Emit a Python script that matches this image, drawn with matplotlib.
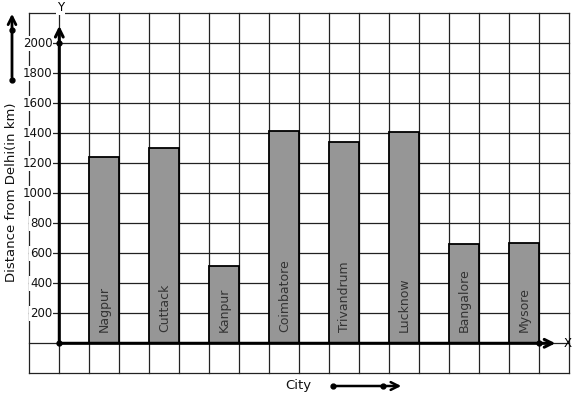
import matplotlib
matplotlib.use("Agg")
import matplotlib.pyplot as plt
import numpy as np

cities = ["Nagpur", "Cuttack", "Kanpur", "Coimbatore", "Trivandrum", "Lucknow", "Bangalore", "Mysore"]
distances = [1240, 1300, 513, 1417, 1340, 1410, 660, 667]
ytick_values = [200, 400, 600, 800, 1000, 1200, 1400, 1600, 1800, 2000]

W, H = 577, 399
fig = plt.figure(figsize=(W / 100, H / 100), dpi=100)
x0, x1, y0, y1 = 29.3, 569.3, 13.3, 373.3
ax = fig.add_axes([x0 / W, 1 - y1 / H, (x1 - x0) / W, (y1 - y0) / H])
ax.set_xlim(-1, 17)
ax.set_ylim(-200, 2200)
for s in ax.spines.values():
    s.set_visible(False)
ax.set_xticks(np.arange(-1, 18))
ax.set_yticks(np.arange(-200, 2201, 200))
ax.tick_params(length=0, labelbottom=False, labelleft=False)
ax.grid(True, color="#222222", lw=0.9)
ax.set_axisbelow(True)
for ln in ax.get_xgridlines() + ax.get_ygridlines():
    ln.set_clip_on(False)

centers = [1.5 + 2 * i for i in range(len(cities))]
ax.bar(centers, distances, width=1.0, color="#969696", edgecolor="black", lw=1.3, zorder=2)
for c, name in zip(centers, cities):
    ax.text(c, 75, name, rotation=90, ha="center", va="bottom", fontsize=9, color="#333333", zorder=3)

# axes with arrows
ax.annotate("", xy=(0, 2135), xytext=(0, 0),
            arrowprops=dict(arrowstyle="->", lw=2.2, color="black", mutation_scale=14), zorder=4)
ax.annotate("", xy=(16.63, 0), xytext=(0, 0),
            arrowprops=dict(arrowstyle="->", lw=2.2, color="black", mutation_scale=14), zorder=4)
ax.plot([0, 0, 16.0], [0, 2000, 0], "o", color="black", ms=3.5, zorder=5, clip_on=False)

for v in ytick_values:
    ax.text(-0.23, v, str(v), ha="right", va="center", fontsize=8.5, color="#111111",
            bbox=dict(facecolor="white", edgecolor="none", pad=0.6), clip_on=False, zorder=3)

ax.text(0.05, 2240, "Y", ha="center", va="center", fontsize=8.5,
        bbox=dict(facecolor="white", edgecolor="none", pad=0.8), clip_on=False, zorder=3)
ax.text(16.95, 0, "X", ha="center", va="center", fontsize=8.5, clip_on=False, zorder=3)

fig.text(12 / W, 1 - 192 / H, "Distance from Delhi(in km)", rotation=90,
         ha="center", va="center", fontsize=9.5, color="#111111")
fig.text(298 / W, 1 - 385 / H, "City", ha="center", va="center", fontsize=9.5, color="#111111")

# decorative arrows
fig_ax = fig.add_axes([0, 0, 1, 1], facecolor="none")
fig_ax.set_xlim(0, W)
fig_ax.set_ylim(H, 0)
fig_ax.axis("off")
fig_ax.annotate("", xy=(12, 11), xytext=(12, 80),
                arrowprops=dict(arrowstyle="->", lw=2.0, color="black", mutation_scale=14))
fig_ax.plot([12, 12], [80, 30], "o", color="black", ms=3.5)
fig_ax.annotate("", xy=(404, 386), xytext=(333, 386),
                arrowprops=dict(arrowstyle="->", lw=1.8, color="black", mutation_scale=14))
fig_ax.plot([333, 383], [386, 386], "o", color="black", ms=3.5)

fig.savefig("out.png", dpi=100, facecolor="white")
